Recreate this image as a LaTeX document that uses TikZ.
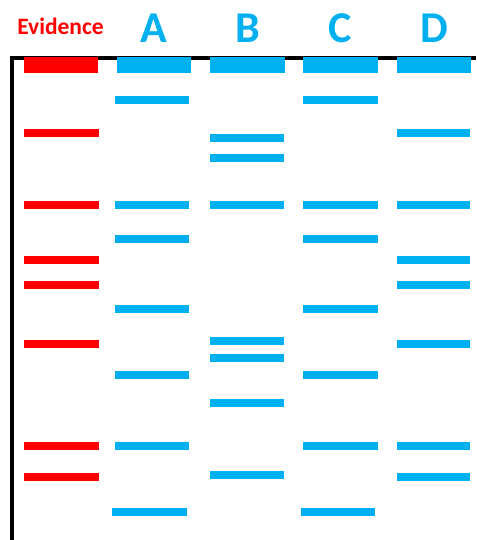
\documentclass[tikz,border=0pt]{standalone}
\usepackage{fontspec}
\setmainfont{Carlito}
\definecolor{evred}{HTML}{FF0000}
\definecolor{laneblue}{HTML}{00B0F0}

\begin{document}
\begin{tikzpicture}[x=1pt,y=-1pt,
    lanelabel/.style={anchor=base, text=laneblue, font=\bfseries\fontsize{44}{50}\selectfont},
    redband/.style={fill=evred},
    blueband/.style={fill=laneblue}]
        \useasboundingbox (0,0) rectangle (476,540);
        % axes
        \draw[line width=3.2pt] (12,540) -- (12,58) -- (476,58);
        % wells
        \fill[redband] (24,57) rectangle (98,73);
        \fill[blueband] (117,57) rectangle (191,73);
        \fill[blueband] (210,57) rectangle (285,73);
        \fill[blueband] (303,57) rectangle (378,73);
        \fill[blueband] (397,57) rectangle (471,73);
        % labels
        \node[anchor=base, text=evred, font=\bfseries\fontsize{23.5}{28}\selectfont] (ev) at (60.5,35) {Evidence};
        \node[lanelabel] (A) at (154,42.3) {A};
        \node[lanelabel] (B) at (247.5,42.3) {B};
        \node[lanelabel] (C) at (340.5,42.3) {C};
        \node[lanelabel] (D) at (434,42.3) {D};
        % bands
        \foreach \y in {133.3,204.7,259.7,284.7,344,445.7,477}
            \fill[redband] (24,\y-4) rectangle (98.7,\y+4);
        \foreach \y in {100.5,204.7,239.3,308.7,375.3,446}
            \fill[blueband] (115,\y-4) rectangle (189,\y+4);
        \fill[blueband] (112,508) rectangle (187,516);
        \foreach \y in {137.7,157.7,204.7,341.3,358.3,402.7,475}
            \fill[blueband] (209.5,\y-4) rectangle (283.7,\y+4);
        \foreach \y in {100.5,204.7,239.3,308.7,375.3,446}
            \fill[blueband] (303,\y-4) rectangle (377.7,\y+4);
        \fill[blueband] (301,508) rectangle (375,516);
        \foreach \y in {133.3,204.7,259.7,284.7,344,446,477}
            \fill[blueband] (396.7,\y-4) rectangle (470.3,\y+4);
    \end{tikzpicture}
\end{document}
